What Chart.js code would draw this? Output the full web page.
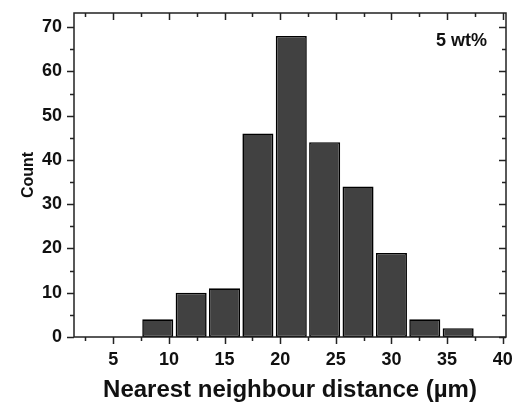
<!DOCTYPE html>
<html>
<head>
<meta charset="utf-8">
<script src="https://cdn.jsdelivr.net/npm/chart.js@4.4.1/dist/chart.umd.min.js"></script>
<style>
  html, body { margin: 0; padding: 0; background: #fff; }
  #wrap { width: 513px; height: 407px; position: relative; }
</style>
</head>
<body>
<div id="wrap"><canvas id="chart"></canvas></div>
<script>
// histogram bins (centre of each bin, um) and counts
const binCenters = [9, 12, 15, 18, 21, 24, 27, 30, 33, 36];
const counts = [4, 10, 11, 46, 68, 44, 34, 19, 4, 2];
const xLabel = 'Nearest neighbour distance (\u00b5m)';
const yLabel = 'Count';
const note = '5 wt%';

const FONT = "'Liberation Sans', Arial, sans-serif";

// frame + Origin-like tick marks (major/minor, out on bottom/left, in on top/right)
const framePlugin = {
  id: 'frame',
  afterDraw(chart) {
    const ctx = chart.ctx;
    const a = chart.chartArea;
    const xs = chart.scales.x, ys = chart.scales.y;
    ctx.save();
    ctx.strokeStyle = '#222';
    ctx.lineWidth = 1.5;
    ctx.strokeRect(a.left, a.top, a.right - a.left, a.bottom - a.top);
    ctx.beginPath();
    for (let v = 2.5; v <= xs.max; v += 2.5) {
      const px = Math.round(xs.getPixelForValue(v)) + 0.5;
      const len = (v % 5 === 0) ? 7 : 4;
      ctx.moveTo(px, a.bottom); ctx.lineTo(px, a.bottom + len);
      ctx.moveTo(px, a.top); ctx.lineTo(px, a.top + len);
    }
    for (let v = 0; v <= ys.max; v += 5) {
      const py = Math.round(ys.getPixelForValue(v)) + 0.5;
      const len = (v % 10 === 0) ? 7 : 4;
      ctx.moveTo(a.left - len, py); ctx.lineTo(a.left, py);
      ctx.moveTo(a.right - len, py); ctx.lineTo(a.right, py);
    }
    ctx.stroke();
    ctx.fillStyle = '#111';
    ctx.font = 'bold 18px ' + FONT;
    ctx.textAlign = 'right';
    ctx.textBaseline = 'alphabetic';
    ctx.fillText(note, a.right - 19, a.top + 33);
    ctx.restore();
  }
};

new Chart(document.getElementById('chart'), {
  type: 'bar',
  data: {
    datasets: [{
      data: binCenters.map((x, i) => ({ x: x, y: counts[i] })),
      backgroundColor: '#414141',
      borderColor: '#000',
      borderWidth: 1.6,
      borderSkipped: false,
      barPercentage: 0.93,
      categoryPercentage: 1.0
    }]
  },
  options: {
    responsive: true,
    maintainAspectRatio: false,
    animation: false,
    layout: { padding: { top: 13, right: 7, left: 0, bottom: 0 } },
    plugins: { legend: { display: false }, tooltip: { enabled: false } },
    scales: {
      x: {
        type: 'linear',
        offset: false,
        min: 1.47,
        max: 40.3,
        grid: { display: false, drawTicks: false },
        border: { display: false },
        ticks: {
          stepSize: 5,
          includeBounds: false,
          padding: 12,
          color: '#111',
          font: { family: FONT, size: 18, weight: 'bold' }
        },
        title: {
          display: true,
          text: xLabel,
          color: '#111',
          padding: { top: 0, bottom: 2 },
          font: { family: FONT, size: 24, weight: 'bold' }
        },
        afterFit(s) { s.height = 70; s.paddingLeft = 0; s.paddingRight = 0; }
      },
      y: {
        min: 0,
        max: 73.2,
        grid: { display: false, drawTicks: false },
        border: { display: false },
        ticks: {
          stepSize: 10,
          includeBounds: false,
          padding: 12,
          color: '#111',
          font: { family: FONT, size: 18, weight: 'bold' }
        },
        title: {
          display: true,
          text: yLabel,
          color: '#111',
          padding: { top: 19, bottom: 0 },
          font: { family: FONT, size: 16, weight: 'bold' }
        },
        afterFit(s) { s.width = 74; s.paddingTop = 0; s.paddingBottom = 0; }
      }
    }
  },
  plugins: [framePlugin]
});
</script>
</body>
</html>
